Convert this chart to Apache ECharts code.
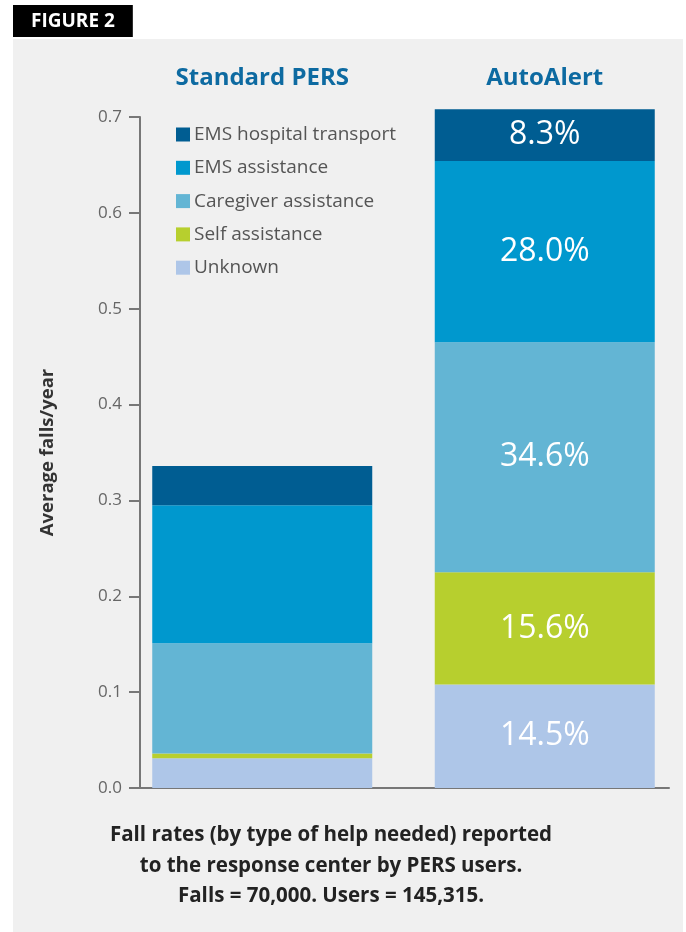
<!DOCTYPE html>
<html>
<head>
<meta charset="utf-8">
<script src="https://cdn.jsdelivr.net/npm/echarts@6/dist/echarts.min.js"></script>
<style>
  html, body { margin: 0; padding: 0; background: #fff; }
  #panel { position: absolute; left: 13px; top: 39px; width: 670px; height: 893px; background: #f0f0f0; }
  #chart { position: absolute; left: 0; top: 0; width: 686px; height: 932px; }
</style>
</head>
<body>
<div id="panel"></div>
<div id="chart"></div>
<script>
const categories = ['Standard PERS', 'AutoAlert'];
const seriesNames = ['Unknown', 'Self assistance', 'Caregiver assistance', 'EMS assistance', 'EMS hospital transport'];
const unknown = [0.031, 0.108];
const selfAssist = [0.005, 0.117];
const caregiver = [0.115, 0.240];
const emsAssist = [0.144, 0.189];
const emsTransport = [0.041, 0.054];
const autoAlertPct = ['14.5%', '15.6%', '34.6%', '28.0%', '8.3%'];
const yTicks = [0, 0.1, 0.2, 0.3, 0.4, 0.5, 0.6, 0.7];

const colors = ['#aec6e8', '#b7cf2e', '#63b5d4', '#0098ce', '#005d92'];
const values = [unknown, selfAssist, caregiver, emsAssist, emsTransport];
const FONT = 'Open Sans';

const chart = echarts.init(document.getElementById('chart'));

const series = seriesNames.map((name, i) => ({
  name,
  type: 'bar',
  stack: 'falls',
  xAxisIndex: 0,
  yAxisIndex: 0,
  barWidth: 220,
  clip: false,
  itemStyle: { color: colors[i] },
  label: {
    show: true,
    position: 'inside',
    color: '#fff',
    fontFamily: FONT,
    fontSize: 32,
    formatter: (p) => (p.dataIndex === 1 ? autoAlertPct[i] : ''),
  },
  data: values[i],
}));

chart.setOption({
  animation: false,
  textStyle: { fontFamily: FONT },
  title: [
    {
      text: 'FIGURE 2',
      left: 13,
      top: 5,
      backgroundColor: '#000',
      padding: [7, 18, 6, 18],
      textStyle: { color: '#fff', fontSize: 19, fontWeight: 'bold', fontFamily: FONT },
    },
    {
      text: 'Fall rates (by type of help needed) reported\nto the response center by PERS users.\nFalls = 70,000. Users = 145,315.',
      left: 326,
      top: 815,
      textAlign: 'center',
      textStyle: { color: '#222', fontSize: 20.5, fontWeight: 'bold', lineHeight: 30.5, fontFamily: FONT },
    },
  ],
  legend: {
    orient: 'vertical',
    left: 171,
    top: 120,
    itemWidth: 14,
    itemHeight: 14,
    itemGap: 14.3,
    icon: 'rect',
    data: seriesNames.slice().reverse(),
    textStyle: { color: '#555', fontSize: 19, fontFamily: FONT, padding: [0, 0, 0, -1] },
  },
  grid: [
    { left: 121, width: 570, top: 117, height: 671 },
    { left: 140, width: 529, top: 117, height: 671 },
  ],
  xAxis: [
    {
      type: 'category',
      gridIndex: 0,
      position: 'top',
      data: categories,
      axisLine: { show: false },
      axisTick: { show: false },
      axisLabel: { margin: 27, color: '#0d6aa1', fontSize: 24, fontWeight: 'bold', fontFamily: FONT },
    },
    {
      type: 'value',
      gridIndex: 1,
      axisLine: { show: true, lineStyle: { color: '#777', width: 2 } },
      axisTick: { show: false },
      axisLabel: { show: false },
      splitLine: { show: false },
    },
  ],
  yAxis: [
    { type: 'value', gridIndex: 0, min: 0, max: 0.7, interval: 0.1, show: false },
    {
      type: 'value',
      gridIndex: 1,
      min: yTicks[0],
      max: yTicks[yTicks.length - 1],
      interval: 0.1,
      name: 'Average falls/year',
      nameLocation: 'middle',
      nameRotate: 90,
      nameGap: 83,
      nameTextStyle: { color: '#333', fontSize: 18.5, fontWeight: 'bold', fontFamily: FONT },
      axisLine: { show: true, lineStyle: { color: '#777', width: 2 } },
      axisTick: { show: true, length: 11, lineStyle: { color: '#777', width: 2 } },
      axisLabel: { margin: 18, color: '#666', fontSize: 17, fontFamily: FONT, formatter: (v) => v.toFixed(1) },
      splitLine: { show: false },
    },
  ],
  series,
});
</script>
</body>
</html>
